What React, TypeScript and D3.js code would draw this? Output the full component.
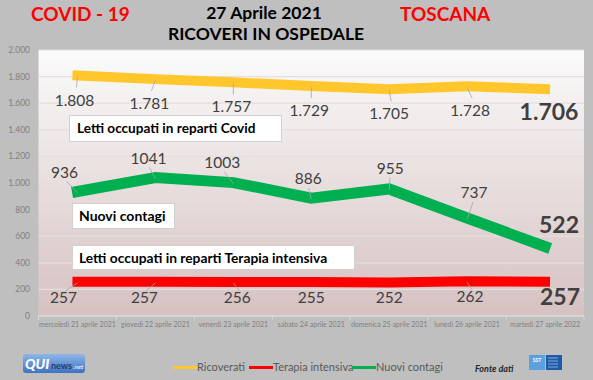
import React from 'react';
import * as d3 from 'd3';

const categories = [
  'mercoledì 21 aprile 2021',
  'giovedì 22 aprile 2021',
  'venerdì 23 aprile 2021',
  'sabato 24 aprile 2021',
  'domenica 25 aprile 2021',
  'lunedì 26 aprile 2021',
  'martedì 27 aprile 2022',
];
const ricoverati = [1808, 1781, 1757, 1729, 1705, 1728, 1706];
const terapia = [257, 257, 256, 255, 252, 262, 257];
const contagi = [936, 1041, 1003, 886, 955, 737, 522];
const yTicks = [0, 200, 400, 600, 800, 1000, 1200, 1400, 1600, 1800, 2000];
const legendLabels = ['Ricoverati', 'Terapia intensiva', 'Nuovi contagi'];

// label placement offsets (layout only)
const LAYOUT = {
  yellowDx: [-3, -6, -2, -2, 0, 3, 4],
  greenDx: [-13, -7, -11, -3, 1, 7, 14],
  greenDy: [-14, -14, -15, -14, -15, -20, -14],
  redDx: [-14, -11, 4, 0, 0, 3, 15],
};

const W = 593;
const H = 380;
const M = { left: 38.5, right: 584, top: 50, bottom: 316 };
const FONT = 'Lato, "Open Sans", sans-serif';

const it = d3.formatLocale({ decimal: ',', thousands: '.', grouping: [3], currency: ['€', ''] });
const fmtIt = it.format(',d');
const fmtPlain = d3.format('d');

export default function App() {
  const x = d3.scaleBand<string>().domain(categories).range([M.left, M.right]).padding(0);
  const y = d3.scaleLinear().domain([0, 2000]).range([M.bottom, M.top]);
  const cx = (i: number) => (x(categories[i]) as number) + x.bandwidth() / 2;
  const line = d3
    .line<number>()
    .x((_, i) => cx(i))
    .y((d) => y(d));

  const yellow = '#ffc72c';
  const red = '#ff0000';
  const green = '#00b050';
  const labelColor = '#404040';
  const last = categories.length - 1;

  const leader = (x1: number, y1: number, x2: number, y2: number, key: string) => (
    <line key={key} x1={x1} y1={y1} x2={x2} y2={y2} stroke="#a6a6a6" strokeWidth={0.8} />
  );

  return (
    <svg width={W} height={H} style={{ position: 'absolute', left: 0, top: 0, fontFamily: FONT }}>
      <defs>
        <linearGradient id="plotbg" x1="0" y1="0" x2="0" y2="1">
          <stop offset="0" stopColor="#fbfbfb" />
          <stop offset="1" stopColor="#d6c1c1" />
        </linearGradient>
        <linearGradient id="qui" x1="0" y1="0" x2="0" y2="1">
          <stop offset="0" stopColor="#8fb6e8" />
          <stop offset="1" stopColor="#3f73c0" />
        </linearGradient>
      </defs>
      <rect x={0} y={0} width={W} height={H} fill="#bfbfbf" />
      <rect x={M.left} y={M.top} width={M.right - M.left} height={M.bottom - M.top} fill="url(#plotbg)" />

      {/* gridlines */}
      {yTicks.map((t) => (
        <line key={'g' + t} x1={M.left} x2={M.right} y1={y(t)} y2={y(t)} stroke="#e6dede" strokeWidth={1.2} />
      ))}
      {/* y labels */}
      {yTicks.map((t) => (
        <text key={'yl' + t} x={30} y={y(t) + 3} fontSize={8.5} fill="#7f7f7f" textAnchor="end">
          {fmtIt(t)}
        </text>
      ))}
      {/* x axis */}
      <line x1={M.left} x2={M.right} y1={M.bottom} y2={M.bottom} stroke="#d9d9d9" strokeWidth={1} />
      {categories.map((c, i) => (
        <line key={'xt' + i} x1={x(c)} x2={x(c)} y1={M.bottom} y2={M.bottom + 4} stroke="#d9d9d9" />
      ))}
      <line x1={M.right} x2={M.right} y1={M.bottom} y2={M.bottom + 4} stroke="#d9d9d9" />
      {categories.map((c, i) => (
        <text key={'xl' + i} x={cx(i)} y={327} fontSize={7} fill="#7f7f7f" textAnchor="middle">
          {c}
        </text>
      ))}

      {/* lines */}
      <path d={line(ricoverati) as string} fill="none" stroke={yellow} strokeWidth={10} strokeLinecap="square" />
      <path d={line(contagi) as string} fill="none" stroke={green} strokeWidth={11} strokeLinecap="square" />
      <path d={line(terapia) as string} fill="none" stroke={red} strokeWidth={10} strokeLinecap="square" />

      {/* yellow labels */}
      {ricoverati.map((v, i) => {
        const lx = cx(i) + LAYOUT.yellowDx[i];
        const isLast = i === last;
        return (
          <g key={'yv' + i}>
            {!isLast && leader(lx + 2, y(v) + 12, cx(i), y(v) + 1, 'yl' + i)}
            <text
              x={lx}
              y={y(v) + (isLast ? 31 : 30)}
              fontSize={isLast ? 23 : 15.5}
              fontWeight={isLast ? 700 : 400}
              fill={labelColor}
              textAnchor="middle"
            >
              {fmtIt(v)}
            </text>
          </g>
        );
      })}

      {/* green labels */}
      {contagi.map((v, i) => {
        const lx = cx(i) + LAYOUT.greenDx[i];
        const isLast = i === last;
        const by = y(v) + LAYOUT.greenDy[i];
        return (
          <g key={'gv' + i}>
            {!isLast && leader(lx + (cx(i) - lx) * 0.15, by + 4, cx(i), y(v) + 1, 'gl' + i)}
            <text
              x={lx}
              y={by}
              fontSize={isLast ? 23 : 15.5}
              fontWeight={isLast ? 700 : 400}
              fill={labelColor}
              textAnchor="middle"
            >
              {fmtPlain(v)}
            </text>
          </g>
        );
      })}

      {/* red labels */}
      {terapia.map((v, i) => {
        const lx = cx(i) + LAYOUT.redDx[i];
        const isLast = i === last;
        return (
          <g key={'rv' + i}>
            {!isLast && LAYOUT.redDx[i] !== 0 && leader(lx + 2, y(v) + 9, cx(i), y(v) + 1, 'rl' + i)}
            <text
              x={lx}
              y={y(v) + (isLast ? 23 : 21)}
              fontSize={isLast ? 23 : 15.5}
              fontWeight={isLast ? 700 : 400}
              fill={labelColor}
              textAnchor="middle"
            >
              {fmtPlain(v)}
            </text>
          </g>
        );
      })}

      {/* text boxes */}
      <rect x={69.5} y={115.5} width={212} height={26} fill="#ffffff" stroke="#d0d0d0" />
      <text x={77} y={133} fontSize={13.6} fontWeight={700} fill="#000">Letti occupati in reparti Covid</text>
      <rect x={72.5} y={203.5} width={102} height={25} fill="#ffffff" stroke="#d0d0d0" />
      <text x={79} y={221} fontSize={14} fontWeight={700} fill="#000">Nuovi contagi</text>
      <rect x={72.5} y={245.5} width={282} height={24} fill="#ffffff" stroke="#d0d0d0" />
      <text x={79} y={263} fontSize={13.8} fontWeight={700} fill="#000">Letti occupati in reparti Terapia intensiva</text>

      {/* titles */}
      <text x={31} y={21} fontSize={19} fontWeight={700} fill="#ff0000">COVID - 19</text>
      <text x={400} y={21} fontSize={19} fontWeight={700} fill="#ff0000">TOSCANA</text>
      <text x={264} y={19} fontSize={17.5} fontWeight={700} fill="#000" textAnchor="middle">27 Aprile 2021</text>
      <text x={266} y={40} fontSize={17.5} fontWeight={700} fill="#000" textAnchor="middle">RICOVERI IN OSPEDALE</text>

      {/* legend */}
      {legendLabels.map((l, i) => {
        const lx = [173, 249, 352][i];
        const col = [yellow, red, green][i];
        return (
          <g key={'lg' + i}>
            <line x1={lx} x2={lx + 24} y1={367.5} y2={367.5} stroke={col} strokeWidth={3} />
            <text x={lx + 24} y={371} fontSize={11} fill="#595959">{l}</text>
          </g>
        );
      })}
      <text x={475} y={372} fontSize={9} fontStyle="italic" fontWeight={700} fill="#262626">Fonte dati</text>

      {/* SST logo */}
      <rect x={529} y={355} width={16} height={15} fill="#5da0e0" />
      <text x={537} y={362} fontSize={5} fontWeight={700} fill="#fff" textAnchor="middle">SST</text>
      <rect x={546} y={355} width={16} height={15} fill="#1d5aa8" />
      {[0, 1, 2, 3].map((k) => (
        <line key={'s' + k} x1={548} x2={558} y1={358 + k * 3} y2={358 + k * 3} stroke="#cfe0f5" strokeWidth={0.6} />
      ))}

      {/* QUInews logo */}
      <rect x={23} y={354} width={62} height={19} rx={3} fill="url(#qui)" />
      <text x={25} y={369} fontSize={14} fontWeight={900} fontStyle="italic" fill="#ffffff">QUI</text>
      <text x={51} y={369} fontSize={9} fontWeight={700} fill="#1f3f75">news</text>
      <text x={73} y={369} fontSize={6.5} fontStyle="italic" fill="#ffffff">.net</text>
    </svg>
  );
}
